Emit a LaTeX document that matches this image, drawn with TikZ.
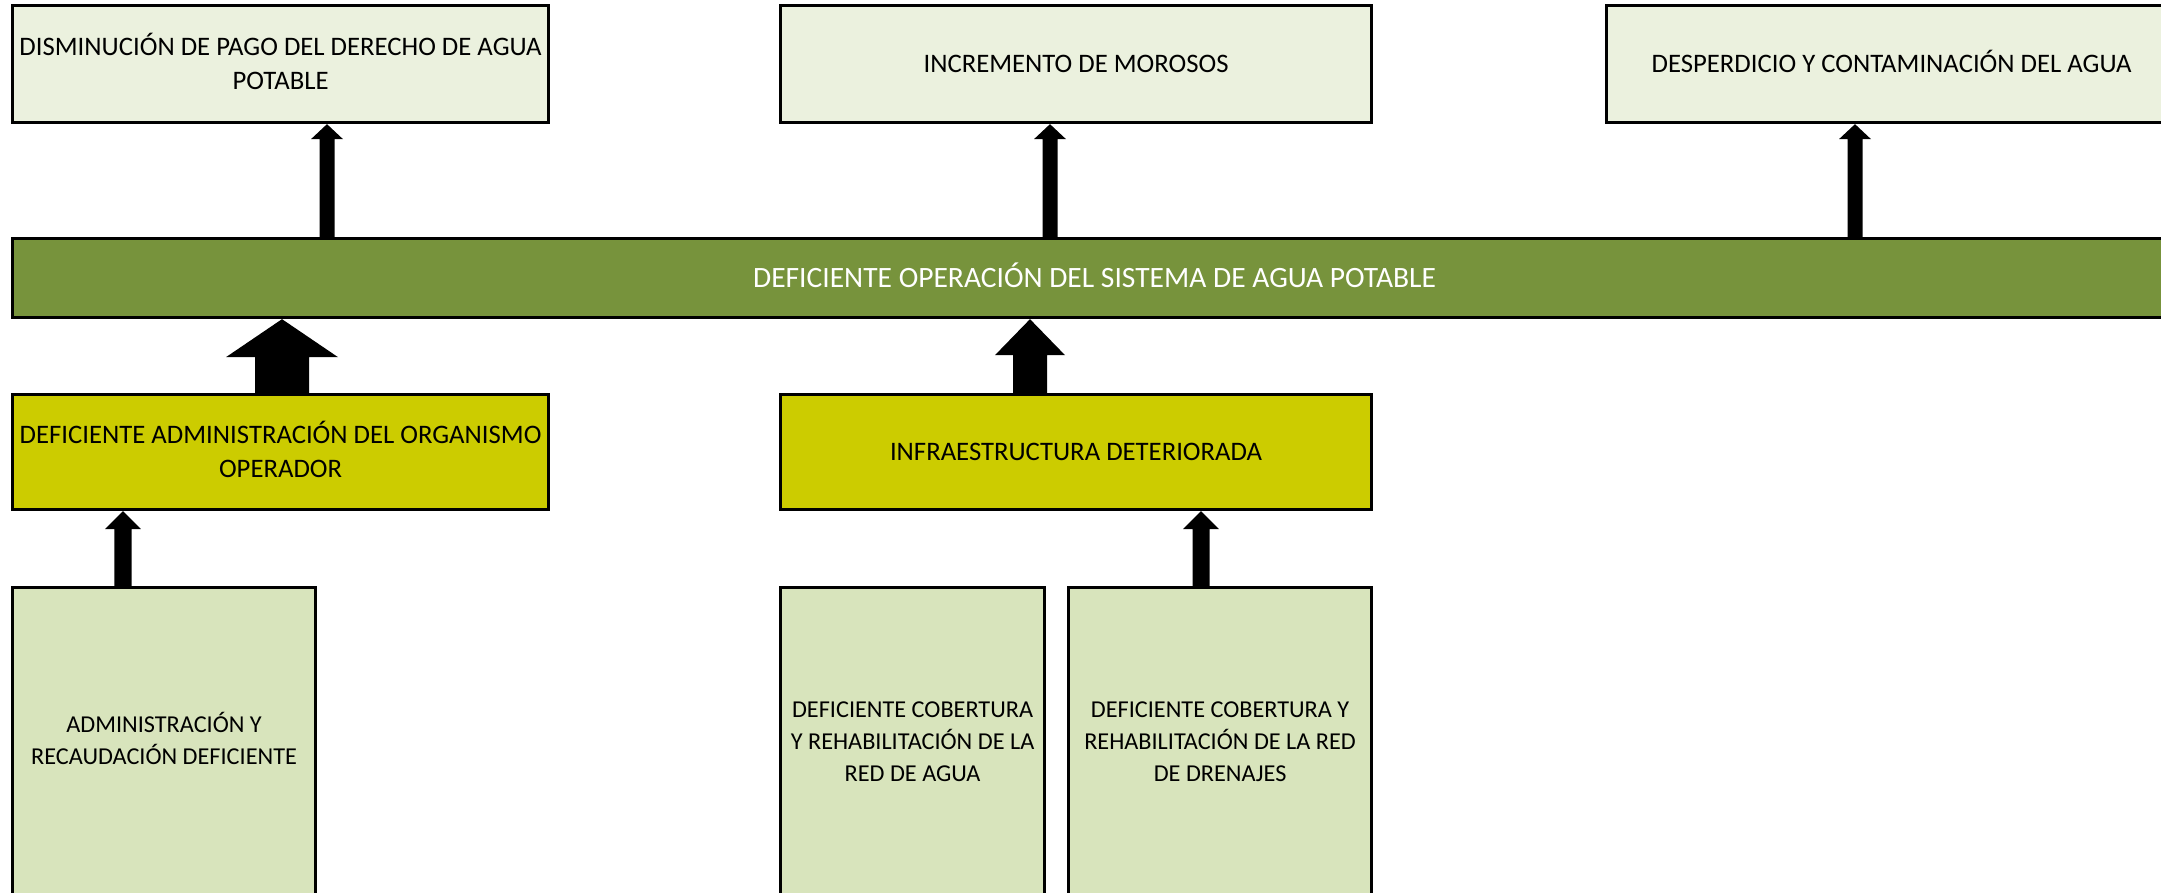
\documentclass[tikz,border=0pt]{standalone}
\usepackage{fontspec}
\setmainfont{Carlito}
\usetikzlibrary{calc}
\definecolor{efecto}{HTML}{EBF1DE}
\definecolor{central}{HTML}{77933C}
\definecolor{causa}{HTML}{CCCC00}
\definecolor{raiz}{HTML}{D8E4BC}
\tikzset{
	caja/.style={draw=black, line width=0.9pt, anchor=north west, align=center, inner sep=0pt,
		font=\fontsize{7.6}{9.7}\selectfont},
	cajaefecto/.style={caja, fill=efecto},
	cajacentral/.style={caja, fill=central, text=white, font=\fontsize{8.4}{9.7}\selectfont},
	cajacausa/.style={caja, fill=causa},
	cajaraiz/.style={caja, fill=raiz, font=\fontsize{6.9}{9.2}\selectfont},
	acento/.style={text depth=0.06cm}
}
% block arrow: base point, tip point, half shaft, half head, head length
\newcommand{\flecha}[5]{\fill[black] let \p1=(#1), \p2=(#2) in
	(\x1-#3,\y1) -- (\x1-#3,\y2-#5) -- (\x1-#4,\y2-#5) -- (\x1,\y2)
	-- (\x1+#4,\y2-#5) -- (\x1+#3,\y2-#5) -- (\x1+#3,\y1) -- cycle;}

\begin{document}
\begin{tikzpicture}
			%%%%% START %%%%%
			\useasboundingbox (0,0) rectangle (21.61,-8.93);
			\clip (0,0) rectangle (21.61,-8.93);
			
			% efectos
			\node[cajaefecto, acento, minimum width=5.36cm, minimum height=1.17cm] (efecto1) at (0.11,-0.04) {DISMINUCIÓN DE PAGO DEL DERECHO DE AGUA\\POTABLE};
			\node[cajaefecto, minimum width=5.91cm, minimum height=1.17cm] (efecto2) at (7.79,-0.04) {INCREMENTO DE MOROSOS};
			\node[cajaefecto, acento, minimum width=5.70cm, minimum height=1.17cm] (efecto3) at (16.05,-0.04) {DESPERDICIO Y CONTAMINACIÓN DEL AGUA};
			
			% problema central
			\node[cajacentral, acento, minimum width=21.64cm, minimum height=0.79cm] (problema) at (0.11,-2.37) {DEFICIENTE OPERACIÓN DEL SISTEMA DE AGUA POTABLE};
			
			% causas
			\node[cajacausa, acento, minimum width=5.36cm, minimum height=1.15cm] (causa1) at (0.11,-3.93) {DEFICIENTE ADMINISTRACIÓN DEL ORGANISMO\\OPERADOR};
			\node[cajacausa, minimum width=5.91cm, minimum height=1.15cm] (causa2) at (7.79,-3.93) {INFRAESTRUCTURA DETERIORADA};
			
			% causas raiz
			\node[cajaraiz, acento, minimum width=3.03cm, minimum height=3.08cm] (raiz1) at (0.11,-5.86) {ADMINISTRACIÓN Y\\RECAUDACIÓN DEFICIENTE};
			\node[cajaraiz, minimum width=2.64cm, minimum height=3.08cm] (raiz2) at (7.79,-5.86) {DEFICIENTE COBERTURA\\Y REHABILITACIÓN DE LA\\RED DE AGUA};
			\node[cajaraiz, minimum width=3.03cm, minimum height=3.08cm] (raiz3) at (10.67,-5.86) {DEFICIENTE COBERTURA Y\\REHABILITACIÓN DE LA RED\\DE DRENAJES};
			
			% flechas problema -> efectos
			\flecha{problema.north -| 3.27,0}{efecto1.south -| 3.27,0}{0.075cm}{0.16cm}{0.15cm}
			\flecha{problema.north -| 10.50,0}{efecto2.south -| 10.50,0}{0.075cm}{0.16cm}{0.15cm}
			\flecha{problema.north -| 18.55,0}{efecto3.south -| 18.55,0}{0.075cm}{0.16cm}{0.15cm}
			
			% flechas causas -> problema
			\flecha{causa1.north -| 2.82,0}{problema.south -| 2.82,0}{0.27cm}{0.56cm}{0.38cm}
			\flecha{causa2.north -| 10.30,0}{problema.south -| 10.30,0}{0.17cm}{0.35cm}{0.36cm}
			
			% flechas raiz -> causas
			\flecha{raiz1.north -| 1.23,0}{causa1.south -| 1.23,0}{0.085cm}{0.18cm}{0.18cm}
			\flecha{raiz3.north -| 12.01,0}{causa2.south -| 12.01,0}{0.085cm}{0.18cm}{0.18cm}
			%%%%% END %%%%%
\end{tikzpicture}
\end{document}
